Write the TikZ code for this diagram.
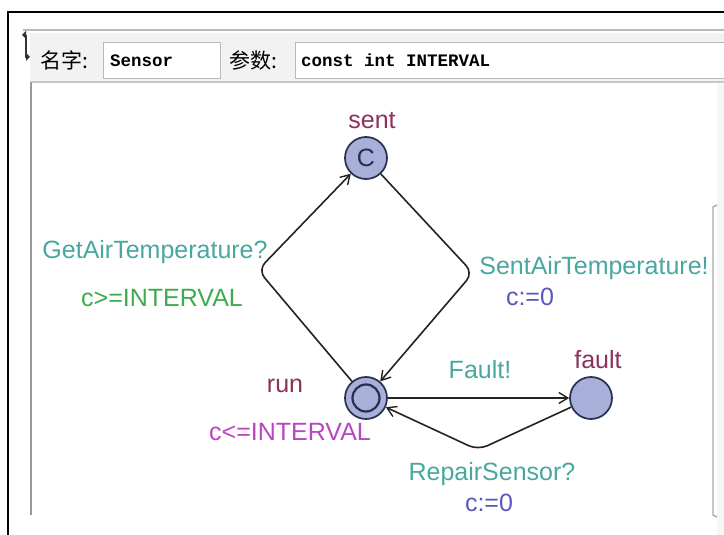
\documentclass[tikz,border=0pt]{standalone}
\usepackage{fontspec}
\setmainfont{Liberation Sans}
\newfontfamily\cjkfont{Noto Sans CJK SC}
\newfontfamily\codefont{Liberation Mono}
\usetikzlibrary{arrows.meta}

\definecolor{syncol}{RGB}{72,168,160}
\definecolor{guardcol}{RGB}{60,172,78}
\definecolor{assigncol}{RGB}{88,88,190}
\definecolor{invcol}{RGB}{188,68,196}
\definecolor{namecol}{RGB}{140,48,92}
\definecolor{locfill}{RGB}{166,176,216}
\definecolor{locline}{RGB}{40,46,78}
\definecolor{edgecol}{RGB}{35,35,35}

\begin{document}
\begin{tikzpicture}[x=1pt,y=-1pt,
  loc/.style={circle, draw=locline, fill=locfill, line width=1.7pt,
    minimum size=42pt, inner sep=0pt, text=locline},
  edge/.style={draw=edgecol, line width=1.6pt, rounded corners=10pt,
    -{Straight Barb[length=9pt,width=11pt,line width=1.4pt]}},
  lbl/.style={font=\fontsize{25}{27}\selectfont, inner sep=0pt},
  sync/.style={lbl, text=syncol},
  guard/.style={lbl, text=guardcol},
  assign/.style={lbl, text=assigncol},
  inv/.style={lbl, text=invcol},
  locname/.style={lbl, text=namecol},
  fieldbox/.style={draw=gray!55, fill=white, line width=1.2pt, inner sep=0pt},
  code/.style={font=\codefont\bfseries\fontsize{17.5}{20}\selectfont, inner sep=0pt},
  cjklabel/.style={font=\cjkfont\fontsize{21}{24}\selectfont, inner sep=0pt}]
\useasboundingbox (0,0) rectangle (724,535);
\fill[white] (0,0) rectangle (724,535);

% window frame
\draw[black, line width=2.6pt] (8,535) -- (8,12) -- (724,12);
\draw[gray!55, line width=2pt] (23,30) -- (724,30);

% toolbar with name and parameter fields
\fill[gray!10] (30,33) rectangle (724,82);
\draw[gray!45, line width=1.5pt] (31,82) -- (724,82);
\draw[black!80, line width=1.4pt] (26,35) -- (26,58);
\fill[black!80] (26,31) -- (26,39) -- (22,35) -- cycle;
\fill[black!80] (26,53) -- (26,61) -- (30,57) -- cycle;

\node[cjklabel, anchor=west] (namelabel) at (40,60) {名字:};
\node[fieldbox, minimum width=117pt, minimum height=36pt, anchor=north west] (namefield) at (103,42) {};
\node[code, anchor=west] (nametext) at ([xshift=7pt]namefield.west) {Sensor};
\node[cjklabel, anchor=west] (paramlabel) at (229,60) {参数:};
\node[fieldbox, minimum width=440pt, minimum height=36pt, anchor=north west] (paramfield) at (295,42) {};
\node[code, anchor=west] (paramtext) at ([xshift=6pt]paramfield.west) {const int INTERVAL};

% canvas borders and scroll bar
\draw[gray!80, line width=2.8pt] (31,82) -- (31,515);
\fill[gray!7] (717,84) rectangle (724,535);
\draw[gray!65, line width=1.4pt] (717,205) -- (713,207) -- (713,515) -- (717,517);

% locations
\node[loc] (sent) at (366,158) {\fontsize{25}{25}\selectfont C};
\node[locname] (sentname) at (372,121) {sent};
\node[loc] (run) at (366,398) {};
\node[circle, draw=locline, fill=locfill, line width=2.2pt, minimum size=27pt, inner sep=0pt] (runinner) at (run) {};
\node[locname] (runname) at (285,386) {run};
\node[inv] (runinv) at (290,432) {c<=INTERVAL};
\node[loc] (fault) at (591,398) {};
\node[locname] (faultname) at (598,360) {fault};

% bend points of the transitions
\coordinate (lc) at (258,270);
\coordinate (rc) at (473,273);
\coordinate (bc) at (478,450);

% transitions
\draw[edge] (run) -- (lc) -- (sent);
\draw[edge] (sent) -- (rc) -- (run);
\draw[edge] (run) -- (fault);
\draw[edge] (fault) -- (bc) -- (run);

% transition labels
\node[sync] (getsync) at (155,252) {GetAirTemperature?};
\node[guard] (getguard) at (162,298) {c>=INTERVAL};
\node[sync] (sentsync) at (594,268) {SentAirTemperature!};
\node[assign] (sentassign) at (530,297) {c:=0};
\node[sync] (faultsync) at (480,370) {Fault!};
\node[sync] (repairsync) at (492,474) {RepairSensor?};
\node[assign] (repairassign) at (489,503) {c:=0};
\end{tikzpicture}
\end{document}
